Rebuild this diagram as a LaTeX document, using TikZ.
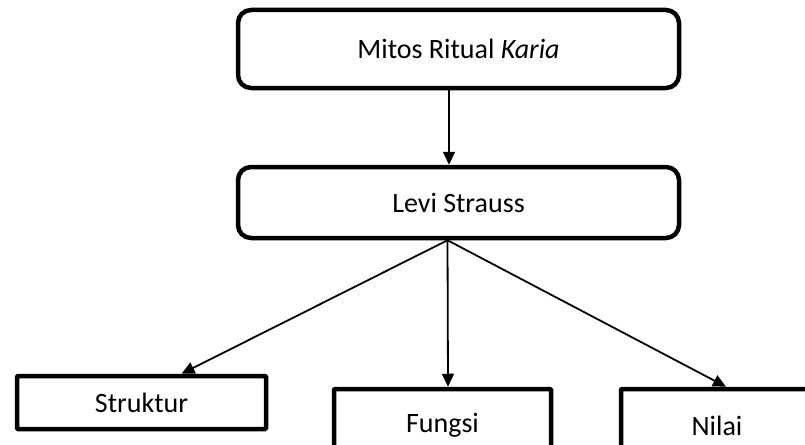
\documentclass[tikz,border=0pt]{standalone}
\usepackage{fontspec}
\setmainfont{Carlito}
\usetikzlibrary{arrows.meta}

\begin{document}
\begin{tikzpicture}
	[x=1pt,y=-1pt,font=\fontsize{28}{34}\selectfont,
	 head/.style={draw,line width=4.5pt,rounded corners=13pt,minimum width=441pt},
	 leaf/.style={draw,line width=4.5pt,rounded corners=1pt},
	 arr/.style={line width=1.8pt,-{Triangle[width=12pt,length=13pt]}}]
	\path[use as bounding box,clip] (0,0) rectangle (805,444);
	\node[head,minimum height=78pt] (mitos) at (458.5,49) {Mitos Ritual \textit{Karia}};
	\node[head,minimum height=71pt] (levi) at (458.5,202.5) {Levi Strauss};
	\node[leaf,minimum width=249pt,minimum height=53pt] (struktur) at (141.5,402.5) {Struktur};
	\node[leaf,minimum width=217pt,minimum height=73pt] (fungsi) at (442.5,425.5) {Fungsi};
	\node[leaf,minimum width=192pt,minimum height=73pt] (nilai) at (717,425.5) {Nilai};
	
	\draw[arr] ([xshift=-9.5pt]mitos.south) -- ([xshift=-9.5pt]levi.north);
	\foreach \to/\dx in {struktur/40,fungsi/5.5,nilai/9}
	\draw[arr] ([xshift=-11pt]levi.south) -- ([xshift=\dx pt]\to.north);
\end{tikzpicture}
\end{document}
